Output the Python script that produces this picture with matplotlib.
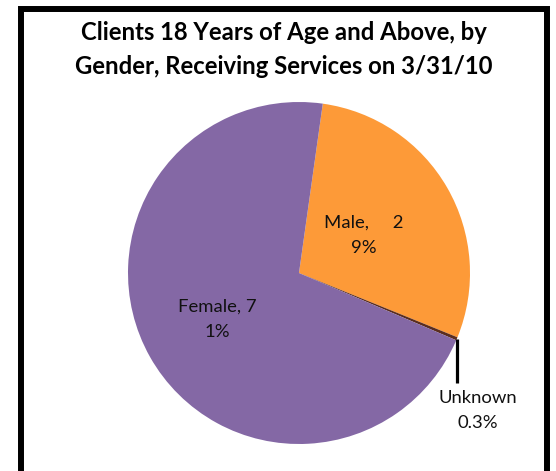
import matplotlib
matplotlib.use("Agg")
import matplotlib.pyplot as plt
import matplotlib.patches as mpatches
import numpy as np

categories = ["Male", "Unknown", "Female"]
values = [29, 0.3, 71]
colors = ["#FD9A38", "#5A2D1F", "#8468A5"]
label_texts = ["Male,     2\n9%", "Unknown\n0.3%", "Female, 7\n1%"]
title_lines = ["Clients 18 Years of Age and Above, by",
               "Gender, Receiving Services on 3/31/10"]

plt.rcParams['font.family'] = ['Lato', 'DejaVu Sans']

W, H = 556, 471
fig = plt.figure(figsize=(W / 100, H / 100), dpi=100)
ax = fig.add_axes([0, 0, 1, 1])

cx, cy, R = 299, H - 273, 171
start = 82
wedges, _ = ax.pie(values, colors=colors, startangle=start, counterclock=False,
                   center=(cx, cy), radius=R, frame=True,
                   wedgeprops=dict(linewidth=0))
ax.set_xlim(0, W)
ax.set_ylim(0, H)
ax.axis('off')

fs = 13.3
for i, (w, txt) in enumerate(zip(wedges, label_texts)):
    mid = np.deg2rad((w.theta1 + w.theta2) / 2)
    if categories[i] == "Unknown":
        ex, ey = cx + R * np.cos(mid), cy + R * np.sin(mid)
        ax.plot([ex, ex], [ey, ey - 44], color='black', lw=2.3,
                solid_capstyle='butt')
        ax.text(ex + 21, ey - 51, txt, ha='center', va='top', fontsize=fs,
                linespacing=1.72, color='#111111')
    else:
        d = 0.44 if categories[i] == "Male" else 0.55
        ax.text(cx + d * R * np.cos(mid), cy + d * R * np.sin(mid), txt,
                ha='center', va='center', fontsize=fs, linespacing=1.72,
                color='#111111')

ax.text(283.5, H - 32, title_lines[0], ha='center', va='center', fontsize=17.2,
        fontweight='bold', color='black')
ax.text(283.5, H - 66, title_lines[1], ha='center', va='center', fontsize=17.2,
        fontweight='bold', color='black')

rect = mpatches.Rectangle((21, -20), 526, H - 9 + 20, fill=False,
                          edgecolor='black', linewidth=4.3, clip_on=False)
ax.add_patch(rect)

fig.savefig("out.png", dpi=100, facecolor='white')
